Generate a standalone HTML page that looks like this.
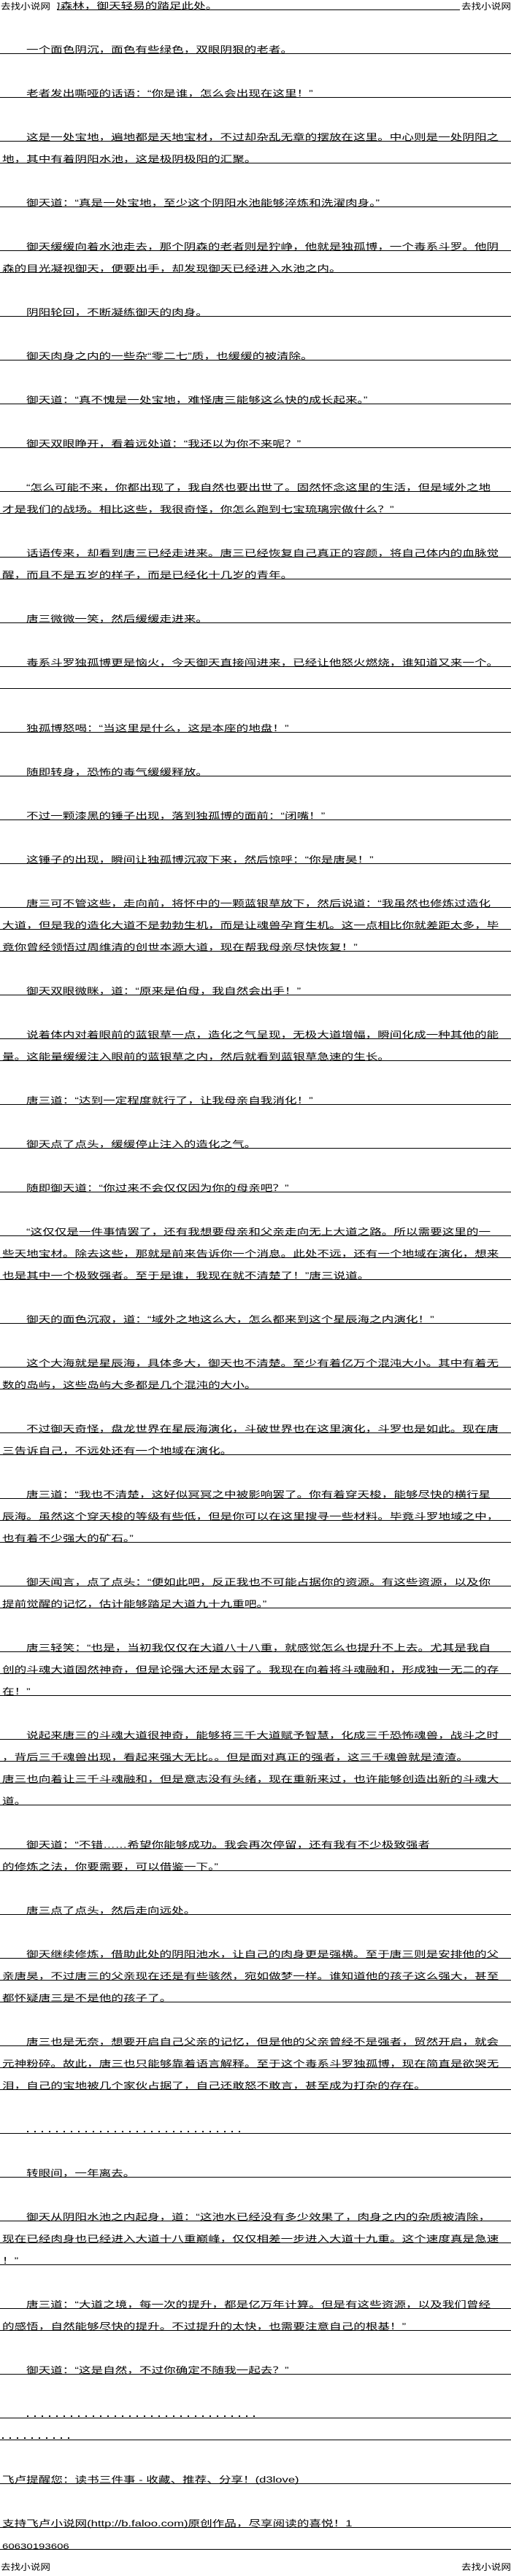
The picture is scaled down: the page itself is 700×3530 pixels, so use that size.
<!DOCTYPE html>
<html><head><meta charset="utf-8">
<style>
html,body{margin:0;padding:0;background:#fff;}
body{width:700px;height:3530px;position:relative;overflow:hidden;font-family:"Liberation Sans","Noto Sans CJK SC",sans-serif;color:#000;}
.r{position:absolute;left:0;width:700px;height:30px;border-bottom:1px solid #000;box-sizing:border-box;}
.n{border-bottom:none;}
.t{position:absolute;bottom:-2px;white-space:nowrap;font-size:16.6px;line-height:1;display:inline-block;transform:scaleY(.72);transform-origin:0 100%;}
.i{left:36px;}
.c{left:3px;}
.d{position:absolute;bottom:1px;height:2px;background:repeating-linear-gradient(90deg,#000 0 2px,transparent 2px 10px);}
.s{position:absolute;font-size:13.6px;line-height:1;white-space:nowrap;transform:scaleY(.85);transform-origin:0 100%;}
</style></head><body>

<div class="s" style="left:1px;top:1px;">去找小说网</div>
<div class="s" style="left:632px;top:1px;">去找小说网</div>
<div style="position:absolute;left:78px;top:-16px;width:552px;height:30px;border-bottom:1px solid #000;box-sizing:border-box;overflow:hidden;"><span class="t" style="left:-12px;">的森林，御天轻易的踏足此处。</span></div>

<div class="r" style="top:44px"><span class="t i">一个面色阴沉，面色有些绿色，双眼阴狠的老者。</span></div>
<div class="r" style="top:104px"><span class="t i">老者发出嘶哑的话语：“你是谁，怎么会出现在这里！”</span></div>
<div class="r" style="top:164px"><span class="t i">这是一处宝地，遍地都是天地宝材，不过却杂乱无章的摆放在这里。中心则是一处阴阳之</span></div>
<div class="r" style="top:194px"><span class="t c">地，其中有着阴阳水池，这是极阴极阳的汇聚。</span></div>
<div class="r" style="top:254px"><span class="t i">御天道：“真是一处宝地，至少这个阴阳水池能够淬炼和洗濯肉身。”</span></div>
<div class="r" style="top:314px"><span class="t i">御天缓缓向着水池走去，那个阴森的老者则是狞峥，他就是独孤博，一个毒系斗罗。他阴</span></div>
<div class="r" style="top:344px"><span class="t c">森的目光凝视御天，便要出手，却发现御天已经进入水池之内。</span></div>
<div class="r" style="top:404px"><span class="t i">阴阳轮回，不断凝练御天的肉身。</span></div>
<div class="r" style="top:464px"><span class="t i">御天肉身之内的一些杂“零二七”质，也缓缓的被清除。</span></div>
<div class="r" style="top:524px"><span class="t i">御天道：“真不愧是一处宝地，难怪唐三能够这么快的成长起来。”</span></div>
<div class="r" style="top:584px"><span class="t i">御天双眼睁开，看着远处道：“我还以为你不来呢？”</span></div>
<div class="r" style="top:644px"><span class="t i">“怎么可能不来，你都出现了，我自然也要出世了。固然怀念这里的生活，但是域外之地</span></div>
<div class="r" style="top:674px"><span class="t c">才是我们的战场。相比这些，我很奇怪，你怎么跑到七宝琉璃宗做什么？”</span></div>
<div class="r" style="top:734px"><span class="t i">话语传来，却看到唐三已经走进来。唐三已经恢复自己真正的容颜，将自己体内的血脉觉</span></div>
<div class="r" style="top:764px"><span class="t c">醒，而且不是五岁的样子，而是已经化十几岁的青年。</span></div>
<div class="r" style="top:824px"><span class="t i">唐三微微一笑，然后缓缓走进来。</span></div>
<div class="r" style="top:884px"><span class="t i">毒系斗罗独孤博更是恼火，今天御天直接闯进来，已经让他怒火燃烧，谁知道又来一个。</span></div>
<div class="r" style="top:914px"></div>
<div class="r" style="top:974px"><span class="t i">独孤博怒喝：“当这里是什么，这是本座的地盘！”</span></div>
<div class="r" style="top:1034px"><span class="t i">随即转身，恐怖的毒气缓缓释放。</span></div>
<div class="r" style="top:1094px"><span class="t i">不过一颗漆黑的锤子出现，落到独孤博的面前：“闭嘴！”</span></div>
<div class="r" style="top:1154px"><span class="t i">这锤子的出现，瞬间让独孤博沉寂下来，然后惊呼：“你是唐昊！”</span></div>
<div class="r" style="top:1214px"><span class="t i">唐三可不管这些，走向前，将怀中的一颗蓝银草放下，然后说道：“我虽然也修炼过造化</span></div>
<div class="r" style="top:1244px"><span class="t c">大道，但是我的造化大道不是勃勃生机，而是让魂兽孕育生机。这一点相比你就差距太多，毕</span></div>
<div class="r" style="top:1274px"><span class="t c">竟你曾经领悟过周维清的创世本源大道，现在帮我母亲尽快恢复！”</span></div>
<div class="r" style="top:1334px"><span class="t i">御天双眼微眯，道：“原来是伯母，我自然会出手！”</span></div>
<div class="r" style="top:1394px"><span class="t i">说着体内对着眼前的蓝银草一点，造化之气呈现，无极大道增幅，瞬间化成一种其他的能</span></div>
<div class="r" style="top:1424px"><span class="t c">量。这能量缓缓注入眼前的蓝银草之内，然后就看到蓝银草急速的生长。</span></div>
<div class="r" style="top:1484px"><span class="t i">唐三道：“达到一定程度就行了，让我母亲自我消化！”</span></div>
<div class="r" style="top:1544px"><span class="t i">御天点了点头，缓缓停止注入的造化之气。</span></div>
<div class="r" style="top:1604px"><span class="t i">随即御天道：“你过来不会仅仅因为你的母亲吧？”</span></div>
<div class="r" style="top:1664px"><span class="t i">“这仅仅是一件事情罢了，还有我想要母亲和父亲走向无上大道之路。所以需要这里的一</span></div>
<div class="r" style="top:1694px"><span class="t c">些天地宝材。除去这些，那就是前来告诉你一个消息。此处不远，还有一个地域在演化，想来</span></div>
<div class="r" style="top:1724px"><span class="t c">也是其中一个极致强者。至于是谁，我现在就不清楚了！”唐三说道。</span></div>
<div class="r" style="top:1784px"><span class="t i">御天的面色沉寂，道：“域外之地这么大，怎么都来到这个星辰海之内演化！”</span></div>
<div class="r" style="top:1844px"><span class="t i">这个大海就是星辰海，具体多大，御天也不清楚。至少有着亿万个混沌大小。其中有着无</span></div>
<div class="r" style="top:1874px"><span class="t c">数的岛屿，这些岛屿大多都是几个混沌的大小。</span></div>
<div class="r" style="top:1934px"><span class="t i">不过御天奇怪，盘龙世界在星辰海演化，斗破世界也在这里演化，斗罗也是如此。现在唐</span></div>
<div class="r" style="top:1964px"><span class="t c">三告诉自己，不远处还有一个地域在演化。</span></div>
<div class="r" style="top:2024px"><span class="t i">唐三道：“我也不清楚，这好似冥冥之中被影响罢了。你有着穿天梭，能够尽快的横行星</span></div>
<div class="r" style="top:2054px"><span class="t c">辰海。虽然这个穿天梭的等级有些低，但是你可以在这里搜寻一些材料。毕竟斗罗地域之中，</span></div>
<div class="r" style="top:2084px"><span class="t c">也有着不少强大的矿石。”</span></div>
<div class="r" style="top:2144px"><span class="t i">御天闻言，点了点头：“便如此吧，反正我也不可能占据你的资源。有这些资源，以及你</span></div>
<div class="r" style="top:2174px"><span class="t c">提前觉醒的记忆，估计能够踏足大道九十九重吧。”</span></div>
<div class="r" style="top:2234px"><span class="t i">唐三轻笑：“也是，当初我仅仅在大道八十八重，就感觉怎么也提升不上去。尤其是我自</span></div>
<div class="r" style="top:2264px"><span class="t c">创的斗魂大道固然神奇，但是论强大还是太弱了。我现在向着将斗魂融和，形成独一无二的存</span></div>
<div class="r" style="top:2294px"><span class="t c">在！”</span></div>
<div class="r" style="top:2354px"><span class="t i">说起来唐三的斗魂大道很神奇，能够将三千大道赋予智慧，化成三千恐怖魂兽，战斗之时</span></div>
<div class="r" style="top:2384px"><span class="t c">，背后三千魂兽出现，看起来强大无比。。但是面对真正的强者，这三千魂兽就是渣渣。</span></div>
<div class="r" style="top:2414px"><span class="t c">唐三也向着让三千斗魂融和，但是意志没有头绪，现在重新来过，也许能够创造出新的斗魂大</span></div>
<div class="r" style="top:2444px"><span class="t c">道。</span></div>
<div class="r" style="top:2504px"><span class="t i">御天道：“不错……希望你能够成功。我会再次停留，还有我有不少极致强者</span></div>
<div class="r" style="top:2534px"><span class="t c">的修炼之法，你要需要，可以借鉴一下。”</span></div>
<div class="r" style="top:2594px"><span class="t i">唐三点了点头，然后走向远处。</span></div>
<div class="r" style="top:2654px"><span class="t i">御天继续修炼，借助此处的阴阳池水，让自己的肉身更是强横。至于唐三则是安排他的父</span></div>
<div class="r" style="top:2684px"><span class="t c">亲唐昊，不过唐三的父亲现在还是有些骇然，宛如做梦一样。谁知道他的孩子这么强大，甚至</span></div>
<div class="r" style="top:2714px"><span class="t c">都怀疑唐三是不是他的孩子了。</span></div>
<div class="r" style="top:2774px"><span class="t i">唐三也是无奈，想要开启自己父亲的记忆，但是他的父亲曾经不是强者，贸然开启，就会</span></div>
<div class="r" style="top:2804px"><span class="t c">元神粉碎。故此，唐三也只能够靠着语言解释。至于这个毒系斗罗独孤博，现在简直是欲哭无</span></div>
<div class="r" style="top:2834px"><span class="t c">泪，自己的宝地被几个家伙占据了，自己还敢怒不敢言，甚至成为打杂的存在。</span></div>
<div class="r" style="top:2894px"><div class="d" style="left:37px;width:296px;"></div></div>
<div class="r" style="top:2954px"><span class="t i">转眼间，一年离去。</span></div>
<div class="r" style="top:3014px"><span class="t i">御天从阴阳水池之内起身，道：“这池水已经没有多少效果了，肉身之内的杂质被清除，</span></div>
<div class="r" style="top:3044px"><span class="t c">现在已经肉身也已经进入大道十八重巅峰，仅仅相差一步进入大道十九重。这个速度真是急速</span></div>
<div class="r" style="top:3074px"><span class="t c">！”</span></div>
<div class="r" style="top:3134px"><span class="t i">唐三道：“大道之境，每一次的提升，都是亿万年计算。但是有这些资源，以及我们曾经</span></div>
<div class="r" style="top:3164px"><span class="t c">的感悟，自然能够尽快的提升。不过提升的太快，也需要注意自己的根基！”</span></div>
<div class="r" style="top:3224px"><span class="t i">御天道：“这是自然，不过你确定不随我一起去？”</span></div>
<div class="r" style="top:3284px"><div class="d" style="left:37px;width:320px;"></div></div>
<div class="r" style="top:3314px"><div class="d" style="left:3px;width:96px;"></div></div>
<div class="r" style="top:3374px"><span class="t c">飞卢提醒您：读书三件事 - 收藏、推荐、分享！(d3love)</span></div>
<div class="r" style="top:3434px"><span class="t c">支持飞卢小说网(http://b.faloo.com)原创作品，尽享阅读的喜悦！1</span></div>
<div class="r" style="top:3464px"><span class="t c" style="font-size:15px;">60630193606</span></div>

<div class="s" style="left:1px;top:3510px;">去找小说网</div>
<div class="s" style="left:632px;top:3510px;">去找小说网</div>
</body></html>
